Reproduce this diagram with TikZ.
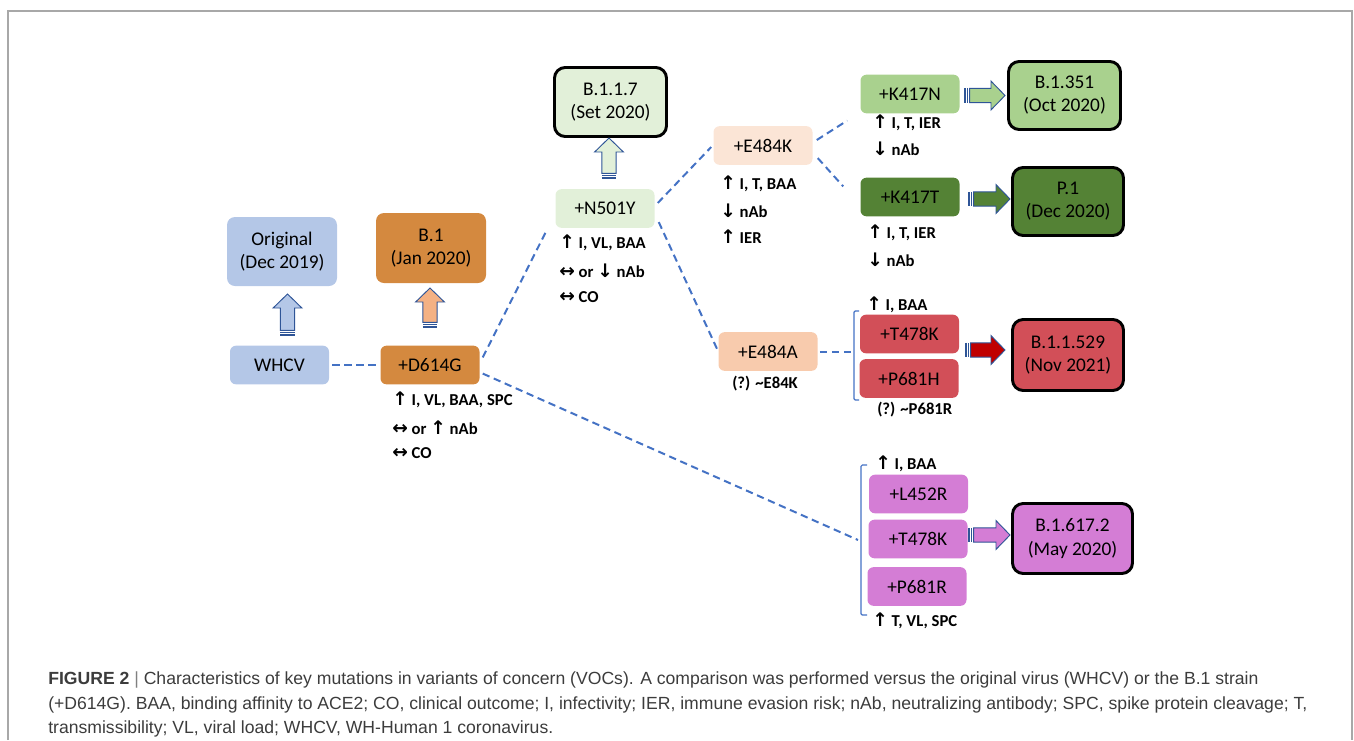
\documentclass[tikz,border=0pt]{standalone}
\usepackage{fontspec}
\setmainfont{Carlito}
\newfontfamily\capfont{Liberation Sans}
\newfontfamily\arrfont{DejaVu Sans}
\usetikzlibrary{calc}
\definecolor{cblue}{HTML}{B4C7E7}
\definecolor{corange}{HTML}{D4893F}
\definecolor{cpeach}{HTML}{F4B183}
\definecolor{cpale}{HTML}{E2F0D9}
\definecolor{cpink}{HTML}{FBE5D6}
\definecolor{clgreen}{HTML}{A9D18E}
\definecolor{cdgreen}{HTML}{548235}
\definecolor{csalmon}{HTML}{F8CBAD}
\definecolor{cred}{HTML}{D24F58}
\definecolor{cdred}{HTML}{C00000}
\definecolor{corchid}{HTML}{D47DD5}
\definecolor{cdash}{HTML}{4472C4}
\definecolor{carrow}{HTML}{2F5597}
\definecolor{cframe}{HTML}{A8A8A8}
\definecolor{ccap}{HTML}{3C3C3C}
\newcommand\UA{{\arrfont\fontsize{14}{14}\selectfont ↑}}
\newcommand\DA{{\arrfont\fontsize{14}{14}\selectfont ↓}}
\newcommand\LR{{\arrfont\fontsize{14}{14}\selectfont ↔}}
% block arrow from coordinate #2 to coordinate #3, filled with #1
\newcommand\blockarrow[3]{%
  \coordinate (ba-a) at ($(#2)!0.9pt!(#3)$);
  \coordinate (ba-b) at ($(#2)!2.7pt!(#3)$);
  \coordinate (ba-t) at ($(#2)!4.2pt!(#3)$);
  \coordinate (ba-h) at ($(#3)!10.5pt!(#2)$);
  \draw[arrowline, fill=#1] ($(ba-t)!5.4pt!90:(#3)$) -- ($(ba-h)!5.4pt!90:(#3)$)
     -- ($(ba-h)!10.8pt!90:(#3)$) -- (#3) -- ($(ba-h)!10.8pt!-90:(#3)$)
     -- ($(ba-h)!5.4pt!-90:(#3)$) -- ($(ba-t)!5.4pt!-90:(#3)$) -- cycle;
  \draw[carrow, line width=1.1pt] ($(ba-a)!5.4pt!90:(#3)$) -- ($(ba-a)!5.4pt!-90:(#3)$);
  \draw[carrow, line width=0.9pt] ($(ba-b)!5.4pt!90:(#3)$) -- ($(ba-b)!5.4pt!-90:(#3)$);
}
\begin{document}
\begin{tikzpicture}[x=0.75pt,y=-0.75pt,
  mut/.style={rounded corners=4.5pt, minimum width=74.25pt, minimum height=29pt,
     inner sep=0pt, font=\fontsize{14.5}{17.3}\selectfont},
  bigbox/.style 2 args={draw=black, line width=2.2pt, rounded corners=8pt, align=center,
     inner sep=0pt, minimum width=#1*0.75pt, minimum height=#2*0.75pt,
     font=\fontsize{14.5}{17.3}\selectfont},
  softbox/.style 2 args={rounded corners=6pt, align=center, inner sep=0pt,
     minimum width=#1*0.75pt, minimum height=#2*0.75pt,
     font=\fontsize{14.5}{17.3}\selectfont},
  ann/.style={anchor=west, inner sep=0pt, font=\bfseries\fontsize{12.5}{14}\selectfont},
  dashline/.style={cdash, line width=1.5pt, dash pattern=on 5.5pt off 3.5pt},
  bracketline/.style={cdash, line width=0.9pt, rounded corners=1pt},
  arrowline/.style={carrow, line width=0.7pt, line join=miter},
  capline/.style={anchor=base west, inner sep=0pt, text=ccap,
     font=\capfont\fontsize{13.2}{15}\selectfont}
]
\useasboundingbox (0,0) rectangle (1354,740);
\draw[cframe, line width=1.5pt] (8,740) -- (8,11) -- (1352,11) -- (1352,740);

% ---------- nodes ----------
\node[softbox={110}{69}, fill=cblue] (orig) at (282,251.5) {Original\\(Dec 2019)};
\node[mut, fill=cblue] (whcv) at (279.5,365) {WHCV};
\node[softbox={110}{70}, fill=corange] (b1) at (431,248) {B.1\\(Jan 2020)};
\node[mut, fill=corange] (d614g) at (430,365) {+D614G};
\node[bigbox={112}{69}, fill=cpale] (b117) at (610.5,102) {B.1.1.7\\(Set 2020)};
\node[mut, fill=cpale] (n501y) at (605,208.5) {+N501Y};
\node[mut, fill=cpink] (e484k) at (763,145.5) {+E484K};
\node[mut, fill=clgreen] (k417n) at (910,94) {+K417N};
\node[bigbox={112}{68}, fill=clgreen] (b1351) at (1064.5,95.5) {B.1.351\\(Oct 2020)};
\node[mut, fill=cdgreen] (k417t) at (910,197) {+K417T};
\node[bigbox={111}{68}, fill=cdgreen] (p1) at (1068,201.5) {P.1\\(Dec 2020)};
\node[mut, fill=csalmon] (e484a) at (768,351.5) {+E484A};
\node[mut, fill=cred] (t478k) at (909.5,334) {+T478K};
\node[mut, fill=cred] (p681h) at (909,378.5) {+P681H};
\node[bigbox={111}{71}, fill=cred] (b11529) at (1068,355) {B.1.1.529\\(Nov 2021)};
\node[mut, fill=corchid] (l452r) at (918.5,494) {+L452R};
\node[mut, fill=corchid] (t478kd) at (918,539) {+T478K};
\node[mut, fill=corchid] (p681r) at (917,586.5) {+P681R};
\node[bigbox={120}{70}, fill=corchid] (b16172) at (1072.5,538.5) {B.1.617.2\\(May 2020)};

% ---------- annotations ----------
\node[ann] (a1) at (392,400) {\UA{} I, VL, BAA, SPC};
\node[ann] (a2) at (392,428) {\LR{} or \UA{} nAb};
\node[ann] (a3) at (392,453) {\LR{} CO};
\node[ann] (b1a) at (559,243) {\UA{} I, VL, BAA};
\node[ann] (b2a) at (559,271) {\LR{} or \DA{} nAb};
\node[ann] (b3a) at (559,297) {\LR{} CO};
\node[ann] (c1) at (720,184) {\UA{} I, T, BAA};
\node[ann] (c2) at (720,211) {\DA{} nAb};
\node[ann] (c3) at (720,237) {\UA{} IER};
\node[ann] (d1) at (872,123) {\UA{} I, T, IER};
\node[ann] (d2) at (872,149) {\DA{} nAb};
\node[ann] (e1) at (867,233) {\UA{} I, T, IER};
\node[ann] (e2) at (867,260) {\DA{} nAb};
\node[ann] (f1) at (732,384) {(?) \textasciitilde E84K};
\node[ann] (g1) at (866,305) {\UA{} I, BAA};
\node[ann] (g2) at (877,410) {(?) \textasciitilde P681R};
\node[ann] (h1) at (875,464) {\UA{} I, BAA};
\node[ann] (h2) at (872,621) {\UA{} T, VL, SPC};

% ---------- brackets ----------
\draw[bracketline] (859,311) -- (854,311) -- (854,400) -- (859,400);
\coordinate (obr) at (852,351.5);
\draw[bracketline] (867,465) -- (861,465) -- (861,615) -- (867,615);
\coordinate (dbr) at (858,540);

% ---------- dashed connectors ----------
\draw[dashline] ([xshift=2.25pt]whcv.east) -- ([xshift=-3pt]d614g.west);
\draw[dashline] ($(d614g.north east)+(3,12)$) -- ($(n501y.south west)+(-8,1)$);
\draw[dashline] ($(d614g.south east)+(3,-11)$) -- (dbr);
\draw[dashline] ($(n501y.east)+(3,-5.5)$) -- ($(e484k.west)+(-2,1.5)$);
\draw[dashline] ($(n501y.south east)+(4,-6)$) -- (e484a.west);
\draw[dashline] ($(e484k.east)+(4,-5.5)$) -- ($(k417n.south west)+(-13,7)$);
\draw[dashline] ($(e484k.south east)+(5,-7)$) -- ($(k417t.north west)+(-17,9)$);
\draw[dashline] ([xshift=1.5pt]e484a.east) -- (obr);

% ---------- block arrows ----------
\coordinate (u1s) at (287.5,336); \coordinate (u1e) at (287.5,294);
\coordinate (u2s) at (430,328);   \coordinate (u2e) at (430,288);
\coordinate (u3s) at (609,179);   \coordinate (u3e) at (609,138);
\coordinate (r1s) at (964,95.5);  \coordinate (r1e) at (1005,95.5);
\coordinate (r2s) at (968,199);   \coordinate (r2e) at (1010,199);
\coordinate (r3s) at (965,350);   \coordinate (r3e) at (1005,350);
\coordinate (r4s) at (968,535);   \coordinate (r4e) at (1010,535);
\blockarrow{cblue}{u1s}{u1e}
\blockarrow{cpeach}{u2s}{u2e}
\blockarrow{cpale}{u3s}{u3e}
\blockarrow{clgreen}{r1s}{r1e}
\blockarrow{cdgreen}{r2s}{r2e}
\blockarrow{cdred}{r3s}{r3e}
\blockarrow{corchid}{r4s}{r4e}

% ---------- caption ----------
\node[capline] (cap1) at (48,684) {\textbf{FIGURE 2} {\color{gray}|} Characteristics of key mutations in variants of concern (VOCs). A comparison was performed versus the original virus (WHCV) or the B.1 strain};
\node[capline] (cap2) at (48,709) {(+D614G). BAA, binding affinity to ACE2; CO, clinical outcome; I, infectivity; IER, immune evasion risk; nAb, neutralizing antibody; SPC, spike protein cleavage; T,};
\node[capline] (cap3) at (48,733) {transmissibility; VL, viral load; WHCV, WH-Human 1 coronavirus.};
\end{tikzpicture}
\end{document}
